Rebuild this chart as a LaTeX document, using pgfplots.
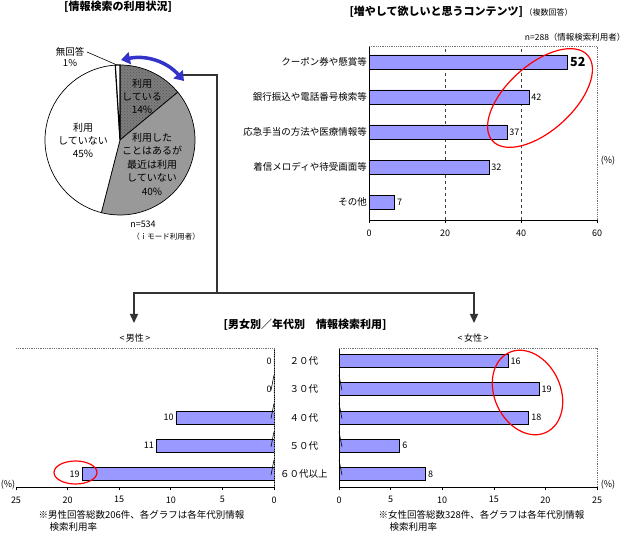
\documentclass[border=0pt]{standalone}
\usepackage{fontspec}
\setmainfont{Noto Sans CJK JP}
\usepackage{pgfplots}
\pgfplotsset{compat=1.18}
\usetikzlibrary{arrows.meta,patterns}
\definecolor{barblue}{HTML}{9999FF}
\definecolor{arrowblue}{HTML}{3333CC}
\definecolor{conn}{HTML}{333333}
\definecolor{piegray}{HTML}{999999}
\definecolor{piedark}{HTML}{7C7C7C}
\pgfplotsset{
  common/.style={
    scale only axis, clip=false, xbar,
    /pgf/number format/assume math mode=true,
    tick label style={font=\fontsize{9}{10}\selectfont},
    tick align=outside, major tick length=3pt,
    axis line style={-, black, line width=0.8pt},
    every tick/.append style={black, line width=0.6pt},
    xticklabel style={yshift=-3pt},
    every major y tick/.append style={draw=none},
    point meta=explicit symbolic, nodes near coords,
    every node near coord/.append style={font=\fontsize{9}{10}\selectfont, inner sep=2pt},
  },
  mybar/.style={fill=barblue, draw=black, line width=0.8pt},
}
\def\pA{14}\def\pB{40}\def\pC{45}\def\pD{1}
\begin{document}
\begin{tikzpicture}[x=1pt,y=1pt,font=\fontsize{9.5}{11}\selectfont]
\path[use as bounding box] (0,0) rectangle (629,533);

% ---------------- pie ----------------
\node[font=\fontsize{11}{12}\selectfont\bfseries] at (118,526) {[情報検索の利用状況]};
\begin{axis}[at={(45pt,318pt)}, anchor=south west, scale only axis, width=150pt, height=150pt,
  xmin=-1, xmax=1, ymin=-1, ymax=1, hide axis, clip=false]
  \filldraw[draw=black, line width=0.7pt, preaction={fill=piedark}, pattern=crosshatch dots, pattern color=black!65]
    (axis cs:0,0) -- ++(90:75pt) arc[start angle=90, end angle={90-3.6*\pA}, radius=75pt] -- cycle;
  \filldraw[draw=black, line width=0.7pt, fill=piegray]
    (axis cs:0,0) -- ++({90-3.6*\pA}:75pt) arc[start angle={90-3.6*\pA}, end angle={90-3.6*(\pA+\pB)}, radius=75pt] -- cycle;
  \filldraw[draw=black, line width=0.7pt, fill=white]
    (axis cs:0,0) -- ++({90-3.6*(\pA+\pB)}:75pt) arc[start angle={90-3.6*(\pA+\pB)}, end angle={90-3.6*(\pA+\pB+\pC)}, radius=75pt] -- cycle;
  \filldraw[draw=black, line width=1.2pt, fill=white]
    (axis cs:0,0) -- ++({90-3.6*(\pA+\pB+\pC)}:75pt) arc[start angle={90-3.6*(\pA+\pB+\pC)}, end angle={90-3.6*(\pA+\pB+\pC+\pD)}, radius=75pt] -- cycle;
\end{axis}
\node[align=center, font=\fontsize{10}{13}\selectfont] at (142,437) {利用\\している\\14\%};
\node[align=center, font=\fontsize{10}{13}\selectfont] at (83,393) {利用\\していない\\45\%};
\node[align=center, font=\fontsize{10}{13.5}\selectfont] at (152,369) {利用した\\ことはあるが\\最近は利用\\していない\\40\%};
\node[align=center, font=\fontsize{9.5}{11.5}\selectfont] at (70,476) {無回答\\1\%};
\draw[black, line width=0.6pt] (87,481) -- (117,468);
\node[font=\fontsize{9}{10}\selectfont] at (143,309) {n=534};
\node[font=\fontsize{7.5}{9}\selectfont] at (166,296) {（ｉモード利用者）};
\draw[arrowblue, line width=3.5pt, {Triangle[length=9pt,width=12pt]}-{Triangle[length=9pt,width=12pt]}]
  (121,473) to[bend left=30] (184,452);

% ---------------- connectors ----------------
\draw[conn, line width=1.5pt] (183,458) -- (217,458) -- (217,240);
\draw[conn, line width=1.5pt] (133.3,240) -- (474.7,240);
\draw[conn, line width=1.5pt, -{Triangle[length=9pt,width=8pt]}] (134,240.7) -- (134,210);
\draw[conn, line width=1.5pt, -{Triangle[length=9pt,width=8pt]}] (474,240.7) -- (474,210);

% ---------------- top-right chart ----------------
\node[anchor=west] at (346,521) {{\fontsize{11}{12}\selectfont\bfseries [増やして欲しいと思うコンテンツ]}\,{\fontsize{8}{9}\selectfont（複数回答）}};
\node[anchor=east, font=\fontsize{8.5}{10}\selectfont] at (629,496) {n=288（情報検索利用者）};
\node[font=\fontsize{9}{10}\selectfont] at (608,372) {(\%)};
\begin{axis}[common, at={(369pt,313pt)}, anchor=south west, width=228pt, height=174pt,
  xmin=0, xmax=60, ymin=0.486, ymax=5.457, bar width=14pt,
  axis x line*=bottom, axis y line*=left,
  xtick={0,20,40,60}, ytick={1,2,3,4,5},
  yticklabels={その他, 着信メロディや待受画面等, 応急手当の方法や医療情報等, 銀行振込や電話番号検索等, クーポン券や懸賞等},
  yticklabel style={font=\fontsize{9.5}{11}\selectfont, inner sep=1pt, xshift=2pt},
  extra x ticks={20,40}, extra x tick labels={},
  extra x tick style={grid=major, major grid style={dashed, black!75, line width=0.6pt}},
  every node near coord/.append style={anchor=west}]
  \addplot[mybar] coordinates {
    (52.3,5) [{\fontsize{12.5}{13}\selectfont\bfseries 52}]
    (42.1,4) [42]
    (36.3,3) [37]
    (31.6,2) [32]
    (6.8,1) [7]
  };
  \draw[black!55, densely dotted, line width=0.8pt] (rel axis cs:0,1) -- (rel axis cs:1,1) -- (rel axis cs:1,0);
\end{axis}

% ---------------- bottom title ----------------
\node[font=\fontsize{11}{12}\selectfont\bfseries] at (305,208) {[男女別／年代別　情報検索利用]};
\node[font=\fontsize{9}{10}\selectfont] at (135,195) {<\,男性\,>};
\node[font=\fontsize{9}{10}\selectfont] at (473,195) {<\,女性\,>};

% ---------------- male ----------------
\begin{axis}[common, at={(16pt,46pt)}, anchor=south west, width=258pt, height=139pt,
  x dir=reverse, xmin=0, xmax=25, ymin=0.54, ymax=5.46, bar width=13pt,
  axis x line*=bottom, axis y line*=right, yticklabel pos=right,
  xtick={0,5,...,25}, ytick={1,2,3,4,5},
  yticklabels={６０代以上, ５０代, ４０代, ３０代, ２０代},
  yticklabel style={font=\fontsize{9.5}{11}\selectfont, anchor=center, xshift=27pt},
  every node near coord/.append style={anchor=east}]
  \addplot[mybar] coordinates {
    (0,5) [0]
    (0,4) [0]
    (9.5,3) [10]
    (11.4,2) [11]
    (18.6,1) [19]
  };
  \draw[black!55, densely dotted, line width=0.8pt] (rel axis cs:1,0) -- (rel axis cs:1,1) -- (rel axis cs:0,1);
  \pgfplotsinvokeforeach{1.5,2.5,3.5,4.5}{\draw[black, line width=0.6pt] (axis cs:0,#1) -- ++(-3pt,0);}
\end{axis}
\node[font=\fontsize{9}{10}\selectfont] at (8,48) {(\%)};
\node[anchor=west, font=\fontsize{9.5}{11}\selectfont] at (35,18) {※男性回答総数206件、各グラフは各年代別情報};
\node[anchor=west, font=\fontsize{9.5}{11}\selectfont] at (46,6) {検索利用率};

% ---------------- female ----------------
\begin{axis}[common, at={(339pt,46pt)}, anchor=south west, width=258pt, height=139pt,
  xmin=0, xmax=25, ymin=0.54, ymax=5.46, bar width=13pt,
  axis x line*=bottom, axis y line*=left,
  xtick={0,5,...,25}, ytick=\empty,
  every node near coord/.append style={anchor=west}]
  \addplot[mybar] coordinates {
    (16.4,5) [16]
    (19.4,4) [19]
    (18.4,3) [18]
    (5.9,2) [6]
    (8.4,1) [8]
  };
  \draw[black!55, densely dotted, line width=0.8pt] (rel axis cs:0,1) -- (rel axis cs:1,1) -- (rel axis cs:1,0);
  \pgfplotsinvokeforeach{1.5,2.5,3.5,4.5}{\draw[black, line width=0.6pt] (axis cs:0,#1) -- ++(3pt,0);}
\end{axis}
\node[font=\fontsize{9}{10}\selectfont] at (608,48) {(\%)};
\node[anchor=west, font=\fontsize{9.5}{11}\selectfont] at (375,18) {※女性回答総数328件、各グラフは各年代別情報};
\node[anchor=west, font=\fontsize{9.5}{11}\selectfont] at (386,6) {検索利用率};

% ---------------- red ellipses ----------------
\draw[red, line width=1.2pt, rotate around={42:(540,435)}] (540,435) ellipse[x radius=64, y radius=33];
\draw[red, line width=1.2pt] (75.5,60.5) ellipse[x radius=21.5, y radius=11.5];
\draw[red, line width=1.2pt, rotate around={-65:(527.5,140.5)}] (527.5,140.5) ellipse[x radius=44, y radius=33];
\end{tikzpicture}
\end{document}
